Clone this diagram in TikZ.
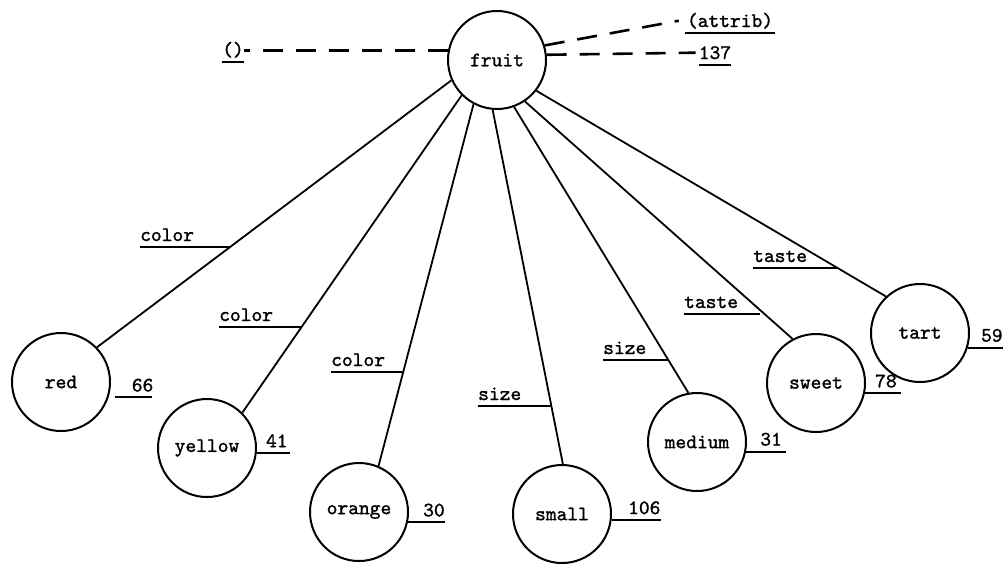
\documentclass[tikz,border=0pt]{standalone}
\usepackage{fontspec}
\newfontfamily\tw[FakeBold=1.3]{lmmono10-regular.otf}
\usetikzlibrary{calc}
\tikzset{
  every node/.style={font=\tw\fontsize{20.5}{22}\selectfont},
  obj/.style={circle,draw,line width=2pt,minimum size=98pt,inner sep=0pt},
  txt/.style={inner sep=0pt},
  edge/.style={line width=1.8pt},
  uline/.style={line width=2pt},
  ptr/.style={line width=2.6pt,dash pattern=on 20pt off 13pt}
}
\begin{document}
\begin{tikzpicture}[x=1pt,y=-1pt]
\useasboundingbox (0,0) rectangle (1006,566);
% objects
\node[obj] (fruit)  at (497,60)  {fruit};
\node[obj] (red)    at (61,382)  {red};
\node[obj] (yellow) at (207,448) {yellow};
\node[obj] (orange) at (359,512) {orange};
\node[obj] (small)  at (562,514) {small};
\node[obj] (medium) at (697,442) {medium};
\node[obj] (sweet)  at (816,383) {sweet};
\node[obj] (tart)   at (920,333) {tart};
% top pointers
\node[txt,anchor=base] (nil) at (233,56) {()};
\draw[uline] ([yshift=-6pt]nil.base west) -- ([yshift=-6pt]nil.base east);
\node[txt,anchor=base] (attrib) at (730,27) {(attrib)};
\draw[uline] ([yshift=-6pt,xshift=-2pt]attrib.base west) -- ([yshift=-6pt,xshift=2pt]attrib.base east);
\node[txt,anchor=base] (cnt) at (715,59) {137};
\draw[uline] ([yshift=-6pt]cnt.base west) -- ([yshift=-6pt]cnt.base east);
\draw[ptr] (fruit.169) -- (fruit.169 -| nil.east);
\draw[ptr] (fruit.17) -- ([xshift=-8pt]attrib.west);
\draw[ptr] (fruit.6) -- ([xshift=-3pt]cnt.west);
% edges
\draw[edge] (fruit.204) -- coordinate[pos=0.625] (e1) (red.44);
\draw[edge] (fruit.225) -- coordinate[pos=0.730] (e2) (yellow.45);
\draw[edge] (fruit.242) -- coordinate[pos=0.738] (e3) (orange.67);
\draw[edge] (fruit.265) -- coordinate[pos=0.836] (e4) (small.89);
\draw[edge] (fruit.290) -- coordinate[pos=0.884] (e5) (medium.100);
\draw[edge] (fruit.304) -- coordinate[pos=0.880] (e6) (sweet.118);
\draw[edge] (fruit.322) -- coordinate[pos=0.860] (e7) (tart.133);
% edge labels
\node[txt,anchor=base west] (l1) at (140,241) {color};
\node[txt,anchor=base west] (l2) at (219,321) {color};
\node[txt,anchor=base west] (l3) at (331,366) {color};
\node[txt,anchor=base west] (l4) at (478,400) {size};
\node[txt,anchor=base west] (l5) at (603,354) {size};
\node[txt,anchor=base west] (l6) at (684,308) {taste};
\node[txt,anchor=base west] (l7) at (753,262) {taste};
\foreach \i in {1,...,7}{
  \coordinate (u\i) at ([yshift=-6pt]l\i.base west);
  \draw[uline] (u\i) -- (u\i -| e\i);
}
% counts
\coordinate (c1) at ([xshift=6pt]red.-18);
\coordinate (c2) at (yellow.-6);
\coordinate (c3) at (orange.-12);
\coordinate (c4) at (small.-7);
\coordinate (c5) at (medium.-11);
\coordinate (c6) at (sweet.-12);
\coordinate (c7) at (tart.-17);
\draw[uline] (c1) -- ++(37,0) coordinate (d1);
\draw[uline] (c2) -- ++(33,0) coordinate (d2);
\draw[uline] (c3) -- ++(37,0) coordinate (d3);
\draw[uline] (c4) -- ++(49,0) coordinate (d4);
\draw[uline] (c5) -- ++(40,0) coordinate (d5);
\draw[uline] (c6) -- ++(36,0) coordinate (d6);
\draw[uline] (c7) -- ++(35,0) coordinate (d7);
\node[txt,anchor=base east] (n1) at ([xshift=2pt,yshift=6pt]d1) {66};
\node[txt,anchor=base east] (n2) at ([xshift=-2pt,yshift=6pt]d2) {41};
\node[txt,anchor=base east] (n3) at ([xshift=0pt,yshift=6pt]d3) {30};
\node[txt,anchor=base east] (n4) at ([xshift=0pt,yshift=6pt]d4) {106};
\node[txt,anchor=base east] (n5) at ([xshift=-4pt,yshift=6pt]d5) {31};
\node[txt,anchor=base east] (n6) at ([xshift=-4pt,yshift=6pt]d6) {78};
\node[txt,anchor=base east] (n7) at ([xshift=0pt,yshift=6pt]d7) {59};
\end{tikzpicture}
\end{document}
